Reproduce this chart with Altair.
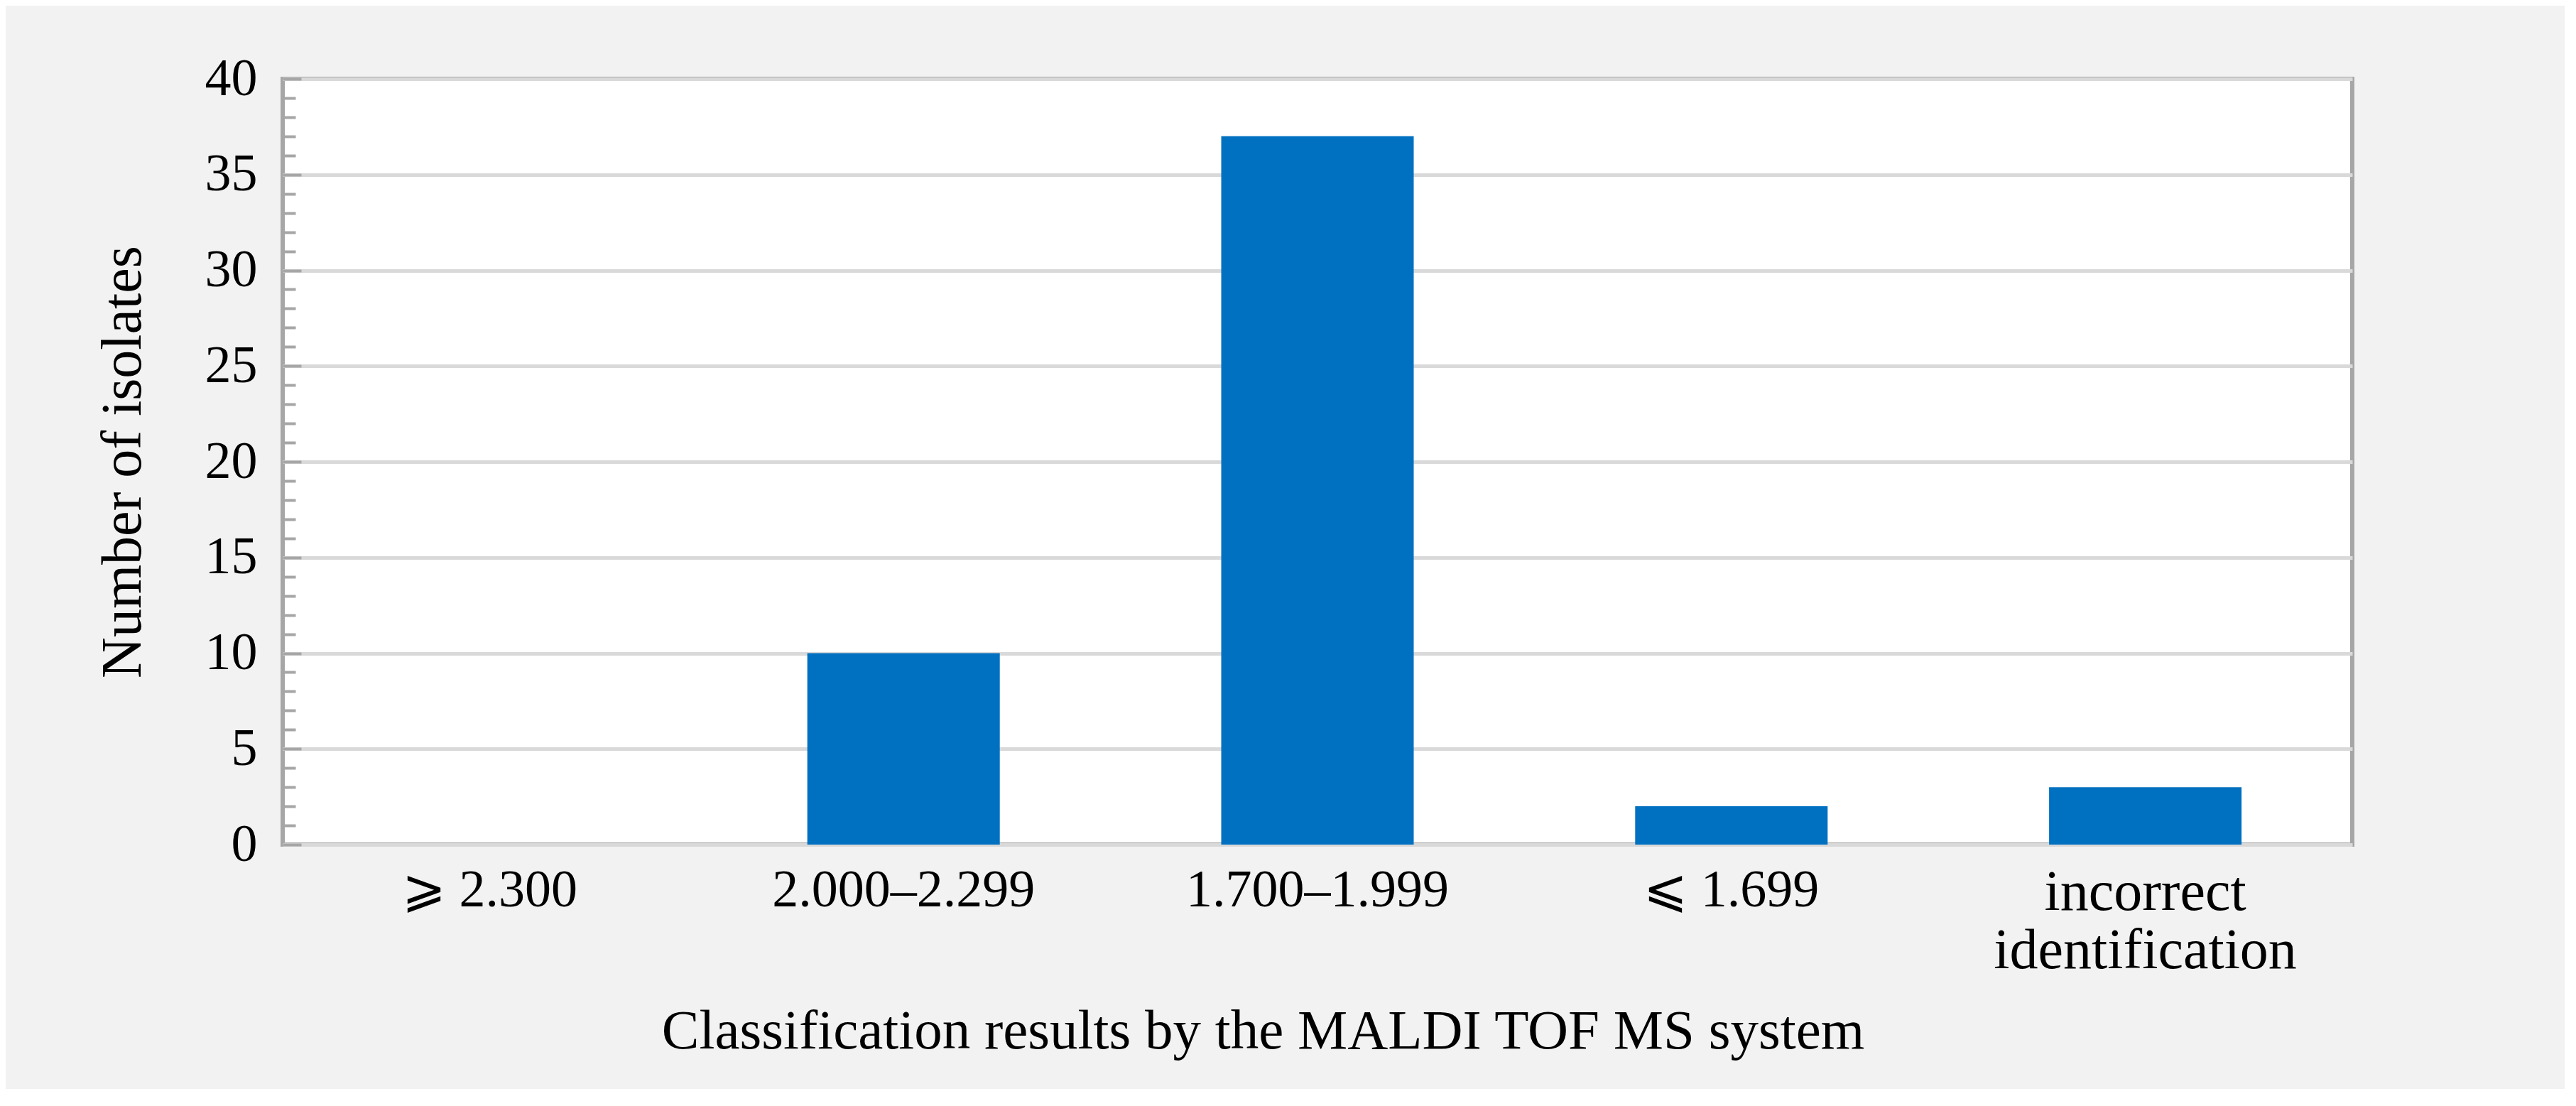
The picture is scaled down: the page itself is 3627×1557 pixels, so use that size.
import altair as alt
import pandas as pd

categories = ["⩾ 2.300", "2.000–2.299", "1.700–1.999", "⩽ 1.699", "incorrect identification"]
counts = [0, 10, 37, 2, 3]

df = pd.DataFrame({"category": categories, "count": counts})

W, H = 2914, 1078
FONT = "Liberation Serif"
AXIS_GRAY = "#a6a6a6"
GRID_GRAY = "#d9d9d9"

x_scale = alt.Scale(paddingInner=0.535, paddingOuter=0.2675)
x_axis = alt.Axis(
    title="Classification results by the MALDI TOF MS system",
    labelAngle=0,
    ticks=False,
    domain=False,
    labelFont=FONT,
    labelFontSize={"condition": {"test": "datum.value == 'incorrect identification'", "value": 80}, "value": 74},
    labelColor="black",
    labelPadding=28,
    labelLimit=0,
    labelBaseline="top",
    labelLineHeight=82,
    labelExpr="datum.label == 'incorrect identification' ? ['incorrect', 'identification'] : datum.label",
    titleFont=FONT,
    titleFontSize=79,
    titleFontWeight="normal",
    titleColor="black",
    titleX=1380,
    titleY=262,
    titleBaseline="middle",
    titleAnchor="start",
    titleAlign="center",
)

y_scale = alt.Scale(domain=[0, 40], nice=False)

bars = alt.Chart(df).mark_bar(color="#0070C0").encode(
    x=alt.X("category:N", sort=categories, scale=x_scale, axis=x_axis),
    y=alt.Y(
        "count:Q",
        scale=y_scale,
        axis=alt.Axis(
            title="Number of isolates",
            values=list(range(0, 41, 5)),
            grid=True,
            gridColor=GRID_GRAY,
            gridWidth=5,
            ticks=False,
            domain=False,
            labelFont=FONT,
            labelFontSize=74,
            labelColor="black",
            labelPadding=36,
            titleFont=FONT,
            titleFontSize=80,
            titleFontWeight="normal",
            titleColor="black",
            titleX=-225,
            titleY=H / 2,
            titleAngle=270,
            titleBaseline="middle",
            titleAlign="center",
            titleAnchor="start",
        ),
    ),
)

minor = alt.Chart(df).mark_bar(opacity=0).encode(
    x=alt.X("category:N", sort=categories, scale=x_scale, axis=x_axis),
    y=alt.Y(
        "count:Q",
        scale=y_scale,
        axis=alt.Axis(
            orient="right",
            offset=-W,
            title=None,
            values=list(range(0, 41)),
            labels=False,
            domain=False,
            grid=False,
            tickColor=AXIS_GRAY,
            tickWidth=4,
            tickSize={"condition": {"test": "datum.value % 5 === 0", "value": 26}, "value": 18},
        ),
    ),
)

chart = (
    alt.layer(bars, minor)
    .resolve_axis(y="independent")
    .properties(
        width=W,
        height=H,
        background="#f2f2f2",
        autosize=alt.AutoSizeParams(type="none"),
        padding={"left": 390, "top": 103, "right": 299, "bottom": 344},
    )
    .configure_view(fill="white", stroke=AXIS_GRAY, strokeWidth=6)
)

chart.save("out.html", embed_options={"renderer": "svg", "actions": False})
